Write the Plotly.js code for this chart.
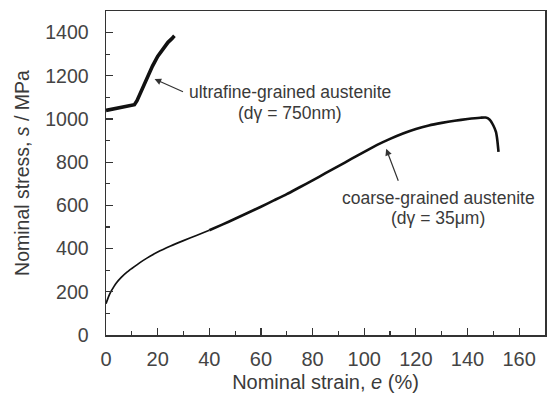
<!DOCTYPE html>
<html>
<head>
<meta charset="utf-8">
<script src="https://cdn.plot.ly/plotly-3.0.1.min.js"></script>
<style>html,body{margin:0;padding:0;background:#fff;}#chart{width:548px;height:394px;}</style>
</head>
<body>
<div id="chart"></div>
<script>
// Coarse-grained austenite (dγ = 35 μm): nominal strain (%) vs nominal stress (MPa)
const coarseStrain = [0, 1, 2, 3, 4, 6, 8, 10, 13, 16, 20, 25, 30, 35, 40, 45, 50, 55, 60, 65, 70, 75, 80, 85, 90, 95, 100, 105, 110, 115, 120, 125, 130, 135, 140, 145, 147, 148.5, 150, 151, 151.5, 152];
const coarseStress = [145, 178, 203, 223, 241, 268, 290, 308, 334, 357, 384, 412, 437, 461, 485, 511, 538, 566, 594, 623, 652, 684, 716, 749, 782, 815, 848, 880, 908, 933, 954, 970, 982, 992, 1000, 1006, 1007, 998, 970, 940, 905, 848];

// Ultrafine-grained austenite (dγ = 750 nm)
const fineStrain = [0, 2, 4, 6, 8, 10, 11, 12, 14, 16, 18, 20, 22, 24, 25.5, 26.5];
const fineStress = [1040, 1045, 1050, 1055, 1060, 1063, 1066, 1085, 1140, 1192, 1245, 1290, 1325, 1355, 1372, 1385];

const xTicks = [0, 20, 40, 60, 80, 100, 120, 140, 160];
const yTicks = [0, 200, 400, 600, 800, 1000, 1200, 1400];

const labelFine = ["ultrafine-grained austenite", "(dγ = 750nm)"];
const labelCoarse = ["coarse-grained austenite", "(dγ = 35μm)"];

const FONT = "Liberation Sans, Arial, Helvetica, sans-serif";
const TXT = "#3a3a3a";

// the smooth start of the coarse curve is drawn thin, the noisy part thicker
const split = coarseStrain.indexOf(40);

const traces = [
  {x: coarseStrain.slice(0, split + 1), y: coarseStress.slice(0, split + 1), type: "scatter", mode: "lines",
   line: {color: "#111", width: 1.7, shape: "spline", smoothing: 0.6}, hoverinfo: "skip"},
  {x: coarseStrain.slice(split), y: coarseStress.slice(split), type: "scatter", mode: "lines",
   line: {color: "#111", width: 2.6, shape: "spline", smoothing: 0.5}, hoverinfo: "skip"},
  {x: fineStrain, y: fineStress, type: "scatter", mode: "lines",
   line: {color: "#111", width: 3.6}, hoverinfo: "skip"}
];

const annFont = {family: FONT, size: 17.5, color: TXT};
const layout = {
  width: 548, height: 394,
  margin: {l: 106, r: 3, t: 11, b: 59},
  paper_bgcolor: "#fff", plot_bgcolor: "#fff",
  showlegend: false,
  font: {family: FONT, color: TXT},
  xaxis: {
    range: [0, 170], tickvals: xTicks, ticktext: xTicks.map(String),
    ticks: "inside", ticklen: 7, tickwidth: 1.2, tickcolor: "#333",
    minor: {dtick: 10, ticks: "inside", ticklen: 4, tickwidth: 1.2, tickcolor: "#333"},
    showline: true, linecolor: "#333", linewidth: 1.5, mirror: true,
    showgrid: false, zeroline: false,
    tickfont: {family: FONT, size: 20, color: "#444"},
    ticklabelstandoff: 5,
    title: {text: "Nominal strain, <i>e</i> (%)", font: {family: FONT, size: 20, color: TXT}, standoff: 6}
  },
  yaxis: {
    range: [0, 1500], tickvals: yTicks, ticktext: yTicks.map(String),
    ticks: "inside", ticklen: 7, tickwidth: 1.2, tickcolor: "#333",
    minor: {dtick: 100, ticks: "inside", ticklen: 4, tickwidth: 1.2, tickcolor: "#333"},
    showline: true, linecolor: "#333", linewidth: 1.5, mirror: true,
    showgrid: false, zeroline: false,
    tickfont: {family: FONT, size: 19.5, color: "#444"},
    ticklabelstandoff: 12,
    title: {text: "Nominal stress, <i>s</i> / MPa", font: {family: FONT, size: 19.5, color: TXT}, standoff: 10}
  },
  annotations: [
    {x: 18.8, y: 1185, ax: 30.4, ay: 1123, axref: "x", ayref: "y", xref: "x", yref: "y",
     text: "", showarrow: true, arrowhead: 2, arrowsize: 1.1, arrowwidth: 1.2, arrowcolor: "#333"},
    {x: 108.5, y: 862, ax: 113.4, ay: 707, axref: "x", ayref: "y", xref: "x", yref: "y",
     text: "", showarrow: true, arrowhead: 2, arrowsize: 1.1, arrowwidth: 1.2, arrowcolor: "#333"},
    {x: 71.1, y: 1126, xref: "x", yref: "y", text: labelFine[0], showarrow: false, xanchor: "center", yanchor: "middle", font: annFont},
    {x: 71.1, y: 1029, xref: "x", yref: "y", text: labelFine[1], showarrow: false, xanchor: "center", yanchor: "middle", font: annFont},
    {x: 128.8, y: 634, xref: "x", yref: "y", text: labelCoarse[0], showarrow: false, xanchor: "center", yanchor: "middle", font: annFont},
    {x: 128.6, y: 543, xref: "x", yref: "y", text: labelCoarse[1], showarrow: false, xanchor: "center", yanchor: "middle", font: annFont}
  ]
};

Plotly.newPlot("chart", traces, layout, {staticPlot: true, displayModeBar: false});
</script>
</body>
</html>
